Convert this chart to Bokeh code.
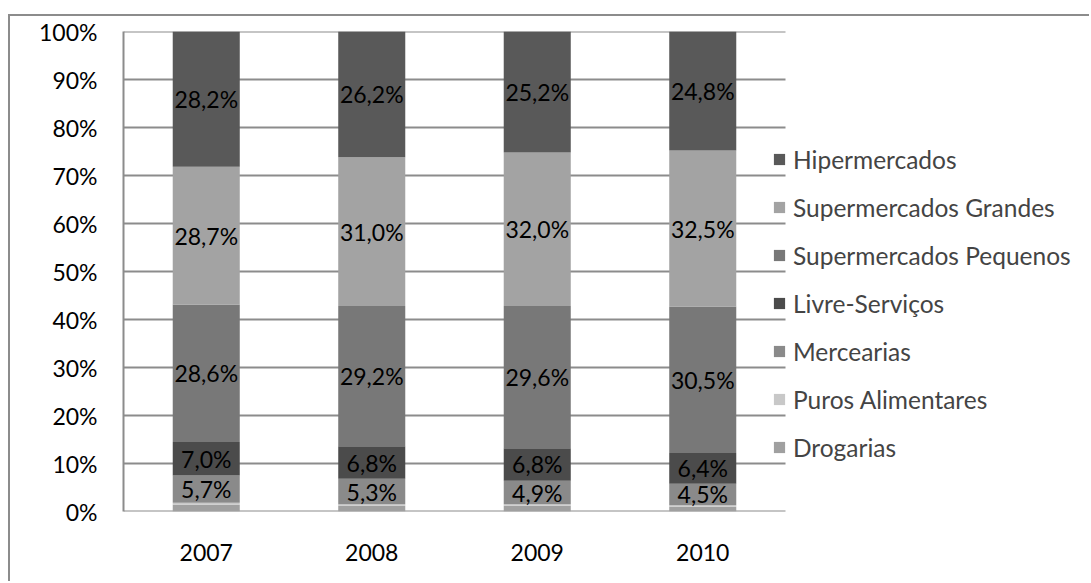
from bokeh.plotting import figure
from bokeh.models import Range1d, FixedTicker, Legend, LegendItem, ColumnDataSource
from bokeh.core.properties import value
from bokeh.embed import file_html
from bokeh.resources import INLINE

years = ["2007", "2008", "2009", "2010"]
categories = ["Drogarias", "Puros Alimentares", "Mercearias", "Livre-Serviços",
              "Supermercados Pequenos", "Supermercados Grandes", "Hipermercados"]
drogarias = [1.4, 1.2, 1.2, 1.0]
puros_alimentares = [0.4, 0.3, 0.3, 0.3]
mercearias = [5.7, 5.3, 4.9, 4.5]
livre_servicos = [7.0, 6.8, 6.8, 6.4]
super_pequenos = [28.6, 29.2, 29.6, 30.5]
super_grandes = [28.7, 31.0, 32.0, 32.5]
hipermercados = [28.2, 26.2, 25.2, 24.8]
series = [drogarias, puros_alimentares, mercearias, livre_servicos,
          super_pequenos, super_grandes, hipermercados]
labelled = [False, False, True, True, True, True, True]
colors = ["#a0a0a0", "#c8c8c8", "#8a8a8a", "#4b4b4b", "#787878", "#a3a3a3", "#595959"]
y_ticks = [0, 10, 20, 30, 40, 50, 60, 70, 80, 90, 100]

FONT = "Lato"
FS = "23px"

n = len(years)
xpos = [i + 0.5 for i in range(n)]
# plot area spans categories 0..n over 662px; canvas frame continues to the right for the legend
x_end = n * (1091 - 123) / 662

p = figure(x_range=Range1d(0, x_end), y_range=Range1d(0, 100), width=1081, height=567,
           output_backend="svg", toolbar_location=None,
           min_border_left=113, min_border_top=15, min_border_bottom=72,
           min_border_right=0)
p.margin = (14, 0, 0, 8)
p.styles = {"border-top": "2px solid #8c8c8c", "border-left": "2px solid #8c8c8c"}
p.outline_line_color = None
p.background_fill_color = "white"
p.border_fill_color = "white"

# gridlines across the category area only
p.segment(x0=[0] * len(y_ticks), x1=[n] * len(y_ticks), y0=y_ticks, y1=y_ticks,
          line_color="#8c8c8c", line_width=2)

data = {"x": xpos}
for c, s in zip(categories, series):
    data[c] = s
src = ColumnDataSource(data)

renderers = p.vbar_stack(categories, x="x", width=0.405, color=colors,
                         line_color=None, source=src)

# labels
bottoms = [0.0] * n
lx, ly, lt = [], [], []
for s, lab in zip(series, labelled):
    for i, v in enumerate(s):
        if lab:
            lx.append(xpos[i])
            ly.append(bottoms[i] + v / 2)
            lt.append(f"{v:.1f}".replace(".", ",") + "%")
        bottoms[i] += v
p.text(x=lx, y=ly, text=lt, text_align="center", text_baseline="middle",
       text_font=value(FONT), text_font_size=FS, text_color="black")

# axes
p.yaxis.ticker = FixedTicker(ticks=y_ticks)
p.yaxis.major_label_overrides = {t: f"{t}%" for t in y_ticks}
p.xaxis.ticker = FixedTicker(ticks=xpos)
p.xaxis.major_label_overrides = {x: y for x, y in zip(xpos, years)}
for ax in (p.xaxis[0], p.yaxis[0]):
    ax.major_label_text_font = FONT
    ax.major_label_text_font_size = FS
    ax.major_label_text_color = "black"
    ax.axis_line_color = "#8c8c8c"
    ax.axis_line_width = 2
    ax.major_tick_line_color = None
    ax.minor_tick_line_color = None
    ax.major_tick_out = 0
    ax.major_tick_in = 0
p.xaxis.axis_line_color = None
p.yaxis.major_label_standoff = 26
p.xaxis.major_label_standoff = 32

p.xgrid.grid_line_color = None
p.ygrid.grid_line_color = None

items = [LegendItem(label=c, renderers=[r]) for c, r in zip(categories, renderers)][::-1]
legend = Legend(items=items, location=(649, 49), orientation="vertical",
                label_text_font=FONT, label_text_font_size="24.5px",
                glyph_width=14, glyph_height=14, label_height=30, spacing=18,
                label_standoff=7, padding=0, margin=0,
                border_line_color=None, background_fill_alpha=0)
p.add_layout(legend, "center")

open("out.html", "w").write(file_html(p, INLINE))
